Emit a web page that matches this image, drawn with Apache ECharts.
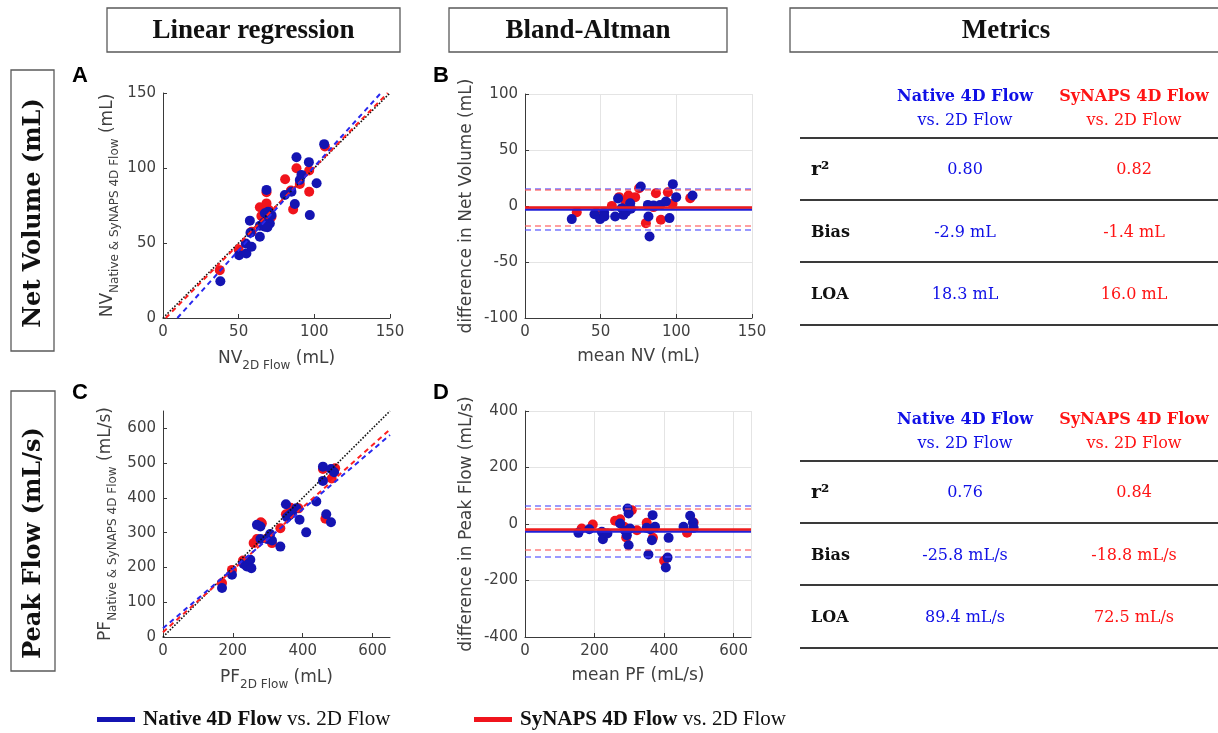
<!DOCTYPE html>
<html>
<head>
<meta charset="utf-8">
<script src="https://cdn.jsdelivr.net/npm/echarts@6/dist/echarts.min.js"></script>
<style>html,body{margin:0;padding:0;background:#fff}#c{width:1218px;height:733px}</style>
</head>
<body>
<div id="c"></div>
<script>
// ---------- DATA ----------
// Panel A: Net Volume, linear regression (x = 2D flow, y = 4D flow)
const nvNative = [[37.9,24.5],[50.3,41.9],[55.1,43],[54.7,49.7],[58.5,47.5],[57.4,64.9],[57.8,56.8],[64,54.2],[64,61.5],[67.3,60.8],[68.4,85.4],[67.3,69.8],[69.5,70.9],[70.6,63],[71.7,68.6],[66.5,63.5],[69,60.5],[80.5,82],[84.9,84.2],[87.1,76],[88.2,107.2],[90.4,92],[91.5,95.4],[96.4,103.9],[97,68.6],[101.5,89.8],[106.5,115.9]];
const nvSynaps = [[37.5,31.9],[50,45.7],[58.5,57.5],[64,73.8],[65,68],[67,66],[68.4,76.4],[68.4,83.9],[70,72],[71.7,67.5],[80.7,92.5],[84.5,85],[86,72.4],[88.2,99.8],[90.4,89.3],[96.6,98.3],[96.6,84.2],[107,114.3]];
const nvIdentity = [[0,0],[150,150]];
const nvFitNative = [[9.5,0],[144,150]];
const nvFitSynaps = [[1.8,0],[148.5,150]];
// Panel B: Net Volume, Bland-Altman (x = mean, y = difference)
const nvBaNative = [[30.9,-11.7],[45.9,-7.3],[49.6,-11.7],[52.3,-5.8],[52.5,-9.4],[59.6,-9.4],[61.5,6.7],[64,-1.9],[65.1,-7.9],[66.8,-5.2],[69.5,2.5],[70,-2.5],[76.5,17.4],[81.2,1],[81.6,-9.4],[82.3,-27.2],[84.9,0.4],[89.3,1],[93.1,4],[95.5,-10.8],[97.7,19.5],[99.9,7.9],[110.7,9.4]];
const nvBaSynaps = [[34.2,-5.5],[47,-5.8],[57.4,0.1],[62.2,7.9],[66.6,4],[68.4,9.4],[72.8,7.9],[75.4,15.9],[79.9,-15.3],[84.9,-1],[86.5,11.4],[89.8,-12.3],[94.4,12.3],[97.5,1.9],[109.2,7]];
// [bias, upper LOA, lower LOA]
const nvBaLinesNative = [-2.9, 15.4, -21.2];
const nvBaLinesSynaps = [-1.4, 14.6, -17.4];
// Panel C: Peak Flow, linear regression
const pfNative = [[169,141],[197.5,179],[231,210],[240,203],[250,222],[253,198],[269,322.5],[279,318],[279,282],[298,282],[307,296],[312,277.5],[336,260],[352,382],[355,344.5],[362,350],[369,356],[382,370],[391,337],[410,301],[439,389.5],[458,449],[458,490],[467.5,353],[481,330],[481,483],[490,474]];
const pfSynaps = [[169,155],[197.5,193],[229,220],[259.5,270],[269,282],[280,330],[283,327],[300,285],[312,270],[336,313],[352,353],[365,372],[388,370],[458,483],[465,340],[483,456],[493,485]];
const pfIdentity = [[0,0],[650,650]];
const pfFitNative = [[0,25],[650,581]];
const pfFitSynaps = [[0,14],[650,597]];
// Panel D: Peak Flow, Bland-Altman
const pfBaNative = [[153.6,-31.3],[185,-18.3],[221,-27.8],[224,-53.8],[237,-33.7],[273.6,1.8],[288,-24.2],[293,-39.6],[295,55],[298,37.2],[298,-75],[302,-16],[350,-13.6],[355,-108],[360,-18.3],[365,-57.3],[367,31.3],[374,-10],[405,-154],[410,-119],[413,-49],[456,-10],[475,29],[483,5.3],[485,-13.6]];
const pfBaSynaps = [[163,-16],[195,-1.8],[259,11.2],[273.6,17],[285,-10],[291,-48],[307,49],[322,-22],[350,4],[368,-49],[400,-130],[466,-31],[485,5]];
const pfBaLinesNative = [-25.8, 63.6, -115.2];
const pfBaLinesSynaps = [-18.8, 53.7, -91.3];
// Metrics tables
const metricLabels = ['r²', 'Bias', 'LOA'];
const nvMetricsNative = ['0.80', '-2.9 mL', '18.3 mL'];
const nvMetricsSynaps = ['0.82', '-1.4 mL', '16.0 mL'];
const pfMetricsNative = ['0.76', '-25.8 mL/s', '89.4 mL/s'];
const pfMetricsSynaps = ['0.84', '-18.8 mL/s', '72.5 mL/s'];
const seriesNames = ['Native 4D Flow', 'SyNAPS 4D Flow'];
const headers = ['Linear regression', 'Bland-Altman', 'Metrics'];
const rowLabels = ['Net Volume (mL)', 'Peak Flow (mL/s)'];
const panelLetters = ['A', 'B', 'C', 'D'];

// ---------- STYLE ----------
const BLUE = '#1414b2', RED = '#f0141c';
const BLUE_T = '#1010e6', RED_T = '#ff1414';
const AX = '#3a3a3a', TXT = '#404040';
const SANS = 'DejaVu Sans', SERIF = 'DejaVu Serif', LSERIF = 'Liberation Serif';
const nameRich = {
  m: {fontFamily: SANS, fontSize: 17, color: TXT, lineHeight: 26, verticalAlign: 'middle'},
  s: {fontFamily: SANS, fontSize: 12, color: TXT, verticalAlign: 'bottom'}
};
const legendName = (i) => seriesNames[i] + ' vs. 2D Flow';

function axis(gi, min, max, interval, name, gap, grid) {
  return {
    gridIndex: gi, type: 'value', min, max, interval,
    name, nameLocation: 'middle', nameGap: gap,
    nameTextStyle: {fontFamily: SANS, fontSize: 17, color: TXT, rich: nameRich},
    axisLine: {show: true, onZero: false, lineStyle: {color: AX, width: 1}},
    axisTick: {show: true, inside: true, length: 4, lineStyle: {color: AX}},
    axisLabel: {fontFamily: SANS, fontSize: 15, color: TXT, margin: 7, showMaxLabel: (max % interval === 0)},
    splitLine: {show: grid, lineStyle: {color: '#e4e4e4', width: 1}}
  };
}

function scatter(name, gi, data, color) {
  return {type: 'scatter', name, xAxisIndex: gi, yAxisIndex: gi, data, symbolSize: 10,
    itemStyle: {color, opacity: 1}, z: 3};
}
function line(gi, data, color, type, width) {
  return {type: 'line', name: '_l', xAxisIndex: gi, yAxisIndex: gi, data, symbol: 'none',
    lineStyle: {color, type, width}, z: 4, silent: true};
}
function baLines(levels, solidColor, dashColor) {
  return {silent: true, symbol: ['none', 'none'], label: {show: false}, z: 5,
    data: [
      {yAxis: levels[0], lineStyle: {color: solidColor, type: 'solid', width: 2.5}},
      {yAxis: levels[1], lineStyle: {color: dashColor, type: [6, 4], width: 2}},
      {yAxis: levels[2], lineStyle: {color: dashColor, type: [6, 4], width: 2}}
    ]};
}

const grids = [
  {left: 163, top: 93, width: 227, height: 225},
  {left: 525, top: 94, width: 227, height: 224},
  {left: 163, top: 411, width: 227, height: 226},
  {left: 525, top: 411, width: 226, height: 226}
];

const xAxes = [
  axis(0, 0, 150, 50, '{m|NV}{s|2D Flow}{m| (mL)}', 28, false),
  axis(1, 0, 150, 50, 'mean NV (mL)', 30, true),
  axis(2, 0, 650, 200, '{m|PF}{s|2D Flow}{m| (mL)}', 28, false),
  axis(3, 0, 650, 200, 'mean PF (mL/s)', 30, true)
];
const yAxes = [
  axis(0, 0, 150, 50, '{m|NV}{s|Native & SyNAPS 4D Flow}{m| (mL)}', 42, false),
  axis(1, -100, 100, 50, 'difference in Net Volume (mL)', 50, true),
  axis(2, 0, 650, 100, '{m|PF}{s|Native & SyNAPS 4D Flow}{m| (mL/s)}', 44, false),
  axis(3, -400, 400, 200, 'difference in Peak Flow (mL/s)', 50, true)
];

const sA_red = scatter(legendName(1), 0, nvSynaps, RED);
const sA_blue = scatter(legendName(0), 0, nvNative, BLUE);
const sB_red = scatter(legendName(1), 1, nvBaSynaps, RED);
const sB_blue = scatter(legendName(0), 1, nvBaNative, BLUE);
sB_blue.markLine = baLines(nvBaLinesNative, '#2020d8', 'rgba(70,70,255,0.55)');
sB_red.markLine = baLines(nvBaLinesSynaps, '#ee1c1c', 'rgba(255,80,80,0.55)');
const sC_red = scatter(legendName(1), 2, pfSynaps, RED);
const sC_blue = scatter(legendName(0), 2, pfNative, BLUE);
const sD_red = scatter(legendName(1), 3, pfBaSynaps, RED);
const sD_blue = scatter(legendName(0), 3, pfBaNative, BLUE);
sD_blue.markLine = baLines(pfBaLinesNative, '#2020d8', 'rgba(70,70,255,0.55)');
sD_red.markLine = baLines(pfBaLinesSynaps, '#ee1c1c', 'rgba(255,80,80,0.55)');

const series = [
  sA_red, sA_blue,
  line(0, nvIdentity, '#111', 'dotted', 1.6),
  line(0, nvFitSynaps, '#ff2020', [5, 4], 2),
  line(0, nvFitNative, '#2828ee', [5, 4], 2),
  sB_blue, sB_red,
  sC_red, sC_blue,
  line(2, pfIdentity, '#111', 'dotted', 1.6),
  line(2, pfFitSynaps, '#ff2020', [5, 4], 2),
  line(2, pfFitNative, '#2828ee', [5, 4], 2),
  sD_blue, sD_red
];
// Bland-Altman: blue points drawn above red
sB_blue.z = 3.5; sD_blue.z = 3.5;

// ---------- GRAPHIC ----------
function txt(x, y, text, font, fill, align, extra) {
  return Object.assign({type: 'text', x, y, silent: true,
    style: Object.assign({text, font, fill, align: align || 'center', verticalAlign: 'middle',
      textAlign: align || 'center', textVerticalAlign: 'middle'}, extra || {})});
}
function rect(x, y, w, h) {
  return {type: 'rect', silent: true, shape: {x, y, width: w, height: h},
    style: {fill: '#fff', stroke: '#5a5a5a', lineWidth: 1.3}};
}
function hline(x1, x2, y) {
  return {type: 'line', silent: true, shape: {x1, y1: y, x2, y2: y}, style: {stroke: '#3a3a3a', lineWidth: 2}};
}

const graphics = [];
// column headers
const hdrBoxes = [[107, 8, 293, 44], [449, 8, 278, 44], [790, 8, 440, 44]];
hdrBoxes.forEach((b, i) => {
  graphics.push(rect(b[0], b[1], b[2], b[3]));
  const cx = i === 2 ? 1006 : b[0] + b[2] / 2;
  graphics.push(txt(cx, b[1] + b[3] / 2 + 1, headers[i], 'bold 27px "' + LSERIF + '"', '#111'));
});
// row labels
const rowBoxes = [[11, 70, 43, 281], [11, 391, 44, 280]];
const rowCenters = [213, 543];
rowBoxes.forEach((b, i) => {
  graphics.push(rect(b[0], b[1], b[2], b[3]));
  const t = txt(b[0] + b[2] / 2 + 1, rowCenters[i], rowLabels[i], 'bold 24px "' + SERIF + '"', '#111');
  t.rotation = Math.PI / 2;
  graphics.push(t);
});
// panel letters
[[80, 76], [441, 76], [80, 393], [441, 393]].forEach((p, i) => {
  graphics.push(txt(p[0], p[1], panelLetters[i], 'bold 22px "Liberation Sans"', '#000'));
});
// metrics tables
function table(top, nat, syn) {
  const c1 = 965, c2 = 1134;
  graphics.push(txt(c1, top, seriesNames[0], 'bold 16px "' + SERIF + '"', BLUE_T));
  graphics.push(txt(c1, top + 24, 'vs. 2D Flow', '16px "' + SERIF + '"', BLUE_T));
  graphics.push(txt(c2, top, seriesNames[1], 'bold 16px "' + SERIF + '"', RED_T));
  graphics.push(txt(c2, top + 24, 'vs. 2D Flow', '16px "' + SERIF + '"', RED_T));
  const rules = [top + 41, top + 103, top + 165, top + 228];
  rules.forEach(y => graphics.push(hline(800, 1218, y)));
  for (let r = 0; r < 3; r++) {
    const y = top + 73 + r * 62.5;
    const lf = r === 0 ? 'bold 19px "' + SERIF + '"' : 'bold 16px "' + SERIF + '"';
    graphics.push(txt(811, y, metricLabels[r], lf, '#111', 'left'));
    graphics.push(txt(c1, y, nat[r], '16px "' + SERIF + '"', BLUE_T));
    graphics.push(txt(c2, y, syn[r], '16px "' + SERIF + '"', RED_T));
  }
}
table(97, nvMetricsNative, nvMetricsSynaps);
table(420, pfMetricsNative, pfMetricsSynaps);

// ---------- LEGENDS ----------
const legendRich = {
  b: {fontFamily: LSERIF, fontWeight: 'bold', fontSize: 21, color: '#111'},
  r: {fontFamily: LSERIF, fontSize: 21, color: '#111'}
};
function legend(i, left) {
  return {data: [{name: legendName(i), icon: 'rect'}], left, top: 709, padding: 0,
    itemWidth: 38, itemHeight: 5, selectedMode: false, itemGap: 0,
    formatter: () => '{b|' + seriesNames[i] + '}{r| vs. 2D Flow}',
    textStyle: {rich: legendRich, padding: [0, 0, 0, 3]}};
}

const chart = echarts.init(document.getElementById('c'), null, {renderer: 'canvas'});
chart.setOption({
  animation: false,
  backgroundColor: '#fff',
  grid: grids,
  xAxis: xAxes,
  yAxis: yAxes,
  series,
  legend: [legend(0, 97), legend(1, 474)],
  graphic: graphics
});
</script>
</body>
</html>
